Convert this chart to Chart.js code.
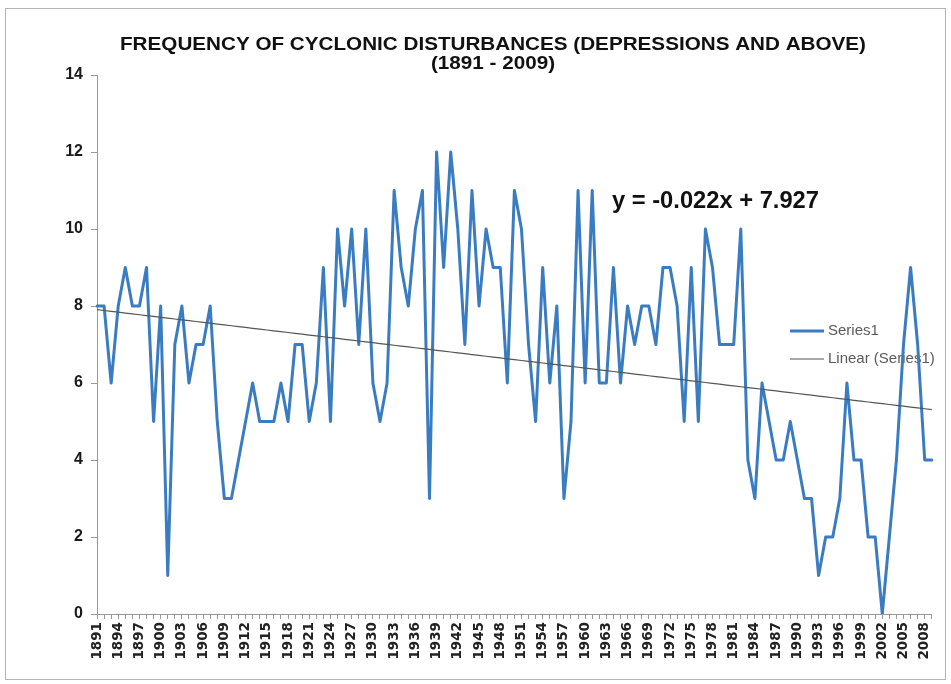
<!DOCTYPE html>
<html><head><meta charset="utf-8">
<script src="https://cdn.jsdelivr.net/npm/chart.js@4/dist/chart.umd.min.js"></script>
<style>html,body{margin:0;padding:0;background:#fff;}canvas{display:block;}</style>
</head><body>
<canvas id="c" width="951" height="684"></canvas>
<script>
const YEARS = [1891,1892,1893,1894,1895,1896,1897,1898,1899,1900,
1901,1902,1903,1904,1905,1906,1907,1908,1909,1910,
1911,1912,1913,1914,1915,1916,1917,1918,1919,1920,
1921,1922,1923,1924,1925,1926,1927,1928,1929,1930,
1931,1932,1933,1934,1935,1936,1937,1938,1939,1940,
1941,1942,1943,1944,1945,1946,1947,1948,1949,1950,
1951,1952,1953,1954,1955,1956,1957,1958,1959,1960,
1961,1962,1963,1964,1965,1966,1967,1968,1969,1970,
1971,1972,1973,1974,1975,1976,1977,1978,1979,1980,
1981,1982,1983,1984,1985,1986,1987,1988,1989,1990,
1991,1992,1993,1994,1995,1996,1997,1998,1999,2000,
2001,2002,2003,2004,2005,2006,2007,2008,2009];

const SERIES1 = [8,8,6,8,9,8,8,9,5,8,
1,7,8,6,7,7,8,5,3,3,
4,5,6,5,5,5,6,5,7,7,
5,6,9,5,10,8,10,7,10,6,
5,6,11,9,8,10,11,3,12,9,
12,10,7,11,8,10,9,9,6,11,
10,7,5,9,6,8,3,5,11,6,
11,6,6,9,6,8,7,8,8,7,
9,9,8,5,9,5,10,9,7,7,
7,10,4,3,6,5,4,4,5,4,
3,3,1,2,2,3,6,4,4,2,
2,0,2,4,7,9,7,4,4];

const Y_TICKS = [0,2,4,6,8,10,12,14];
const TITLE_LINES = ['FREQUENCY OF CYCLONIC DISTURBANCES (DEPRESSIONS AND ABOVE)', '(1891 - 2009)'];
const EQUATION = 'y = -0.022x + 7.927';
const TREND_SLOPE = -0.022;
const TREND_INTERCEPT = 7.927;
const LEGEND_LABELS = ['Series1', 'Linear (Series1)'];

const TREND = YEARS.map((y, i) => TREND_INTERCEPT + TREND_SLOPE * (i + 1));

const BLUE = '#3a7cc2';
const GRAY = '#555555';

function scaledText(ctx, txt, x, y, font, sx, align) {
  ctx.save();
  ctx.font = font;
  ctx.translate(x, y);
  ctx.scale(sx, 1);
  ctx.textAlign = align;
  ctx.textBaseline = 'alphabetic';
  ctx.fillText(txt, 0, 0);
  ctx.restore();
}

const deco = {
  id: 'deco',
  beforeDraw(chart) {
    const c = chart.ctx;
    c.save();
    c.fillStyle = '#fff';
    c.fillRect(0, 0, chart.width, chart.height);
    c.strokeStyle = '#b4b4b4';
    c.lineWidth = 1;
    c.strokeRect(5.5, 8.5, 940, 671);
    c.restore();
  },
  beforeDatasetsDraw(chart) {
    const c = chart.ctx;
    c.save();
    const lx0 = 790, lx1 = 824, tx = 828;
    const ly = [331, 359];
    c.lineCap = 'butt';
    c.strokeStyle = BLUE; c.lineWidth = 3;
    c.beginPath(); c.moveTo(lx0, ly[0]); c.lineTo(lx1, ly[0]); c.stroke();
    c.strokeStyle = GRAY; c.lineWidth = 1.2;
    c.beginPath(); c.moveTo(lx0, ly[1]); c.lineTo(lx1, ly[1]); c.stroke();
    c.fillStyle = '#5a5a5a';
    c.font = '15px "Liberation Sans", Arial, sans-serif';
    c.textAlign = 'left'; c.textBaseline = 'middle';
    c.fillText(LEGEND_LABELS[0], tx, ly[0]);
    c.fillText(LEGEND_LABELS[1], tx, ly[1]);
    c.restore();
  },
  afterDraw(chart) {
    const c = chart.ctx;
    c.save();
    c.fillStyle = '#111';
    const tf = 'bold 18px "Liberation Sans", Arial, sans-serif';
    c.font = tf;
    const w1 = c.measureText(TITLE_LINES[0]).width;
    const s = 746 / w1;
    scaledText(c, TITLE_LINES[0], 493, 50, tf, s, 'center');
    scaledText(c, TITLE_LINES[1], 493, 69, tf, s, 'center');

    const ef = 'bold 23.5px "Liberation Sans", Arial, sans-serif';
    c.font = ef;
    const we = c.measureText(EQUATION).width;
    scaledText(c, EQUATION, 612, 208, ef, 207 / we, 'left');
    c.restore();
  }
};

new Chart(document.getElementById('c').getContext('2d'), {
  type: 'line',
  data: {
    labels: YEARS,
    datasets: [
      { label: LEGEND_LABELS[0], data: SERIES1, borderColor: BLUE, borderWidth: 3, pointRadius: 0, tension: 0, fill: false, order: 1, borderJoinStyle: 'round', borderCapStyle: 'round' },
      { label: LEGEND_LABELS[1], data: TREND, borderColor: GRAY, borderWidth: 1.2, pointRadius: 0, tension: 0, fill: false, order: 0 }
    ]
  },
  options: {
    responsive: false,
    animation: false,
    events: [],
    layout: { padding: { top: 75, right: 19, bottom: 2, left: 0 } },
    plugins: { legend: { display: false }, title: { display: false }, tooltip: { enabled: false } },
    scales: {
      x: {
        offset: false,
        grid: { drawOnChartArea: false, drawTicks: true, tickLength: 5, color: '#9a9a9a' },
        border: { color: '#9a9a9a' },
        ticks: {
          autoSkip: false, minRotation: 90, maxRotation: 90, padding: 3, color: '#222',
          font: { family: '"DejaVu Sans"', weight: 'bold', size: 13.5 },
          callback(v, i) { return i % 3 === 0 ? this.getLabelForValue(v) : ''; }
        },
        afterFit(s) { s.height = 68; }
      },
      y: {
        min: 0, max: 14,
        afterBuildTicks(s) { s.ticks = Y_TICKS.map(v => ({ value: v })); },
        ticks: { padding: 8, color: '#1a1a1a', font: { family: '"Liberation Sans"', weight: 'bold', size: 16 } },
        grid: { drawOnChartArea: false, tickLength: 6, color: '#9a9a9a' },
        border: { color: '#9a9a9a' },
        afterFit(s) { s.width = 97; }
      }
    }
  },
  plugins: [deco]
});
</script>
</body></html>
